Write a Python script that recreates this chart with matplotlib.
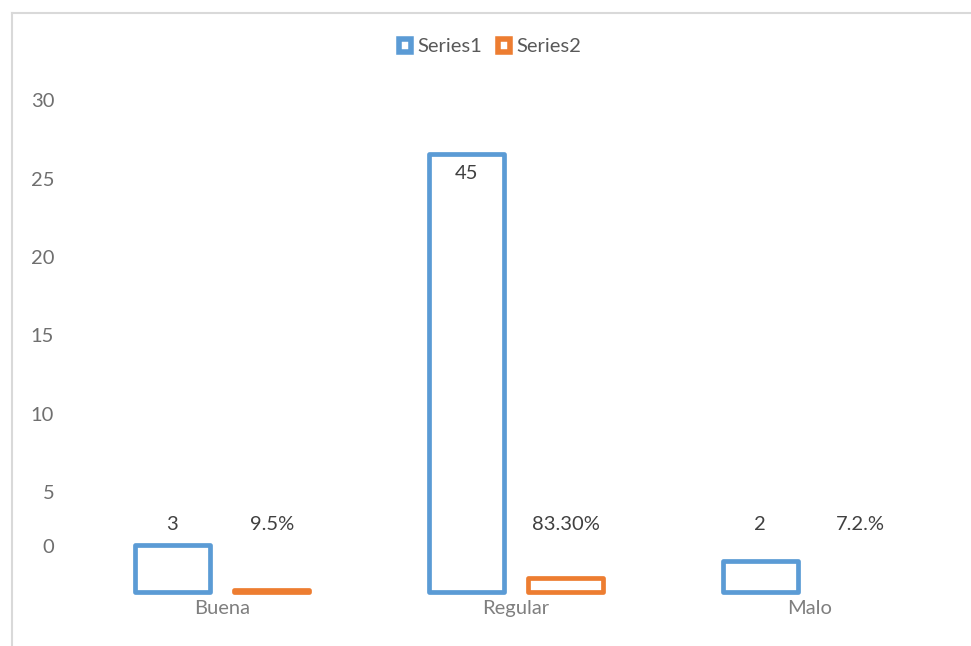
import matplotlib.pyplot as plt
import numpy as np
from matplotlib.patches import Patch
from matplotlib.lines import Line2D

# datos
categorias = ['Buena', 'Regular', 'Malo']
serie1 = [3, 28, 2]            # altura dibujada de las columnas
serie2 = [0.15, 0.9, 0]        # altura dibujada de las columnas naranjas
etiquetas1 = ['3', '45', '2']
etiquetas2 = ['9.5%', '83.30%', '7.2.%']
ticks_valores = ['0', '5', '10', '15', '20', '25', '30']

azul = '#5B9BD5'
naranja = '#ED7D31'

plt.rcParams['font.family'] = ['Lato', 'DejaVu Sans']
fs = 14.5

fig = plt.figure(figsize=(9.71, 6.46), dpi=100)
ax = fig.add_axes([75 / 971, (646 - 592) / 646, (957 - 75) / 971, (592 - 91) / 646])

x = np.arange(len(categorias))
ancho = 0.255
desp = 0.17

for i in range(len(categorias)):
    ax.bar(x[i] - desp, serie1[i], ancho, facecolor='white', edgecolor=azul,
           linewidth=3.4, clip_on=False, joinstyle='round')
    if serie2[i] > 0:
        ax.bar(x[i] + desp, serie2[i], ancho, facecolor='white', edgecolor=naranja,
               linewidth=3.4, clip_on=False, joinstyle='round')

# etiquetas de datos
y_etq = 4.3
for i in range(len(categorias)):
    if serie1[i] > 10:
        ax.text(x[i] - desp, serie1[i] - 1.3, etiquetas1[i], ha='center', va='center',
                fontsize=fs, color='#404040')
    else:
        ax.text(x[i] - desp, y_etq, etiquetas1[i], ha='center', va='center',
                fontsize=fs, color='#404040')
    ax.text(x[i] + desp, y_etq, etiquetas2[i], ha='center', va='center',
            fontsize=fs, color='#404040')

ax.set_xlim(-0.5, 2.5)
ax.set_ylim(0, 32)
ax.set_xticks(x)
ax.set_xticklabels(categorias, fontsize=fs, color='#7f7f7f')
ax.set_yticks([2.95, 6.4, 11.4, 16.4, 21.4, 26.4, 31.4])
ax.set_yticklabels(ticks_valores, fontsize=fs, color='#6f6f6f')
ax.tick_params(length=0)
ax.tick_params(axis='x', pad=6)
ax.tick_params(axis='y', pad=15)
for s in ax.spines.values():
    s.set_visible(False)

# leyenda
handles = [Patch(facecolor='white', edgecolor=azul, linewidth=4, label='Series1'),
           Patch(facecolor='white', edgecolor=naranja, linewidth=4, label='Series2')]
fig.legend(handles=handles, loc='center', bbox_to_anchor=(490 / 971, 1 - 47 / 646),
           ncol=2, frameon=False, fontsize=fs, handlelength=0.6, handleheight=0.6,
           handletextpad=0.3, columnspacing=0.8, labelcolor='#595959')

# borde del grafico
fig.add_artist(Line2D([12 / 971, 12 / 971], [0, 1 - 13 / 646], color='#d9d9d9', linewidth=1.5))
fig.add_artist(Line2D([12 / 971, 1], [1 - 13 / 646, 1 - 13 / 646], color='#d9d9d9', linewidth=1.5))

fig.savefig('out.png', dpi=100)
